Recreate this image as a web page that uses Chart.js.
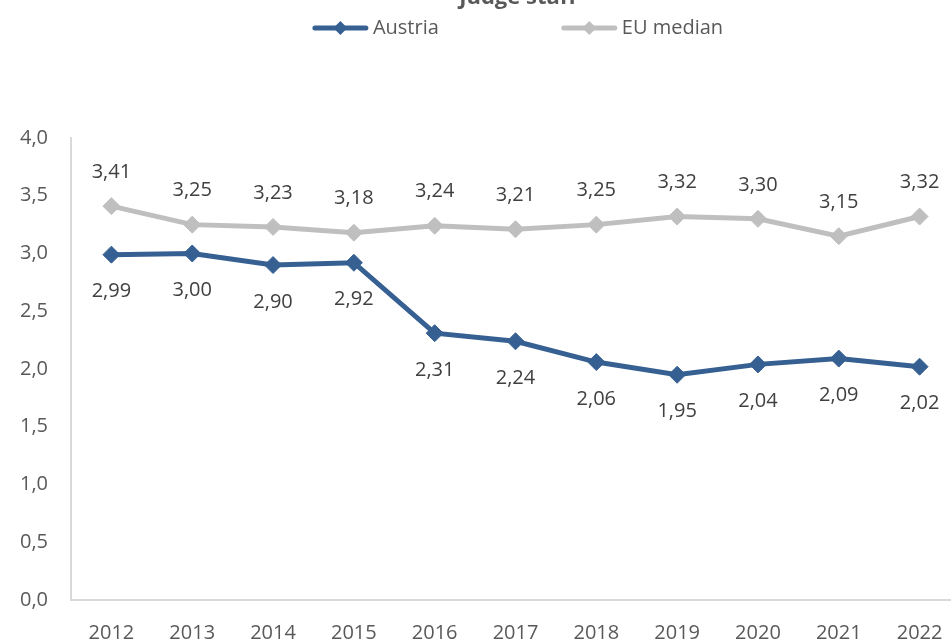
<!DOCTYPE html>
<html>
<head>
<meta charset="utf-8">
<title>Judge staff</title>
<script src="https://cdn.jsdelivr.net/npm/chart.js@4"></script>
<style>
  html, body { margin: 0; padding: 0; overflow: hidden; background: #fff; }
  #wrap { position: relative; width: 951px; height: 643px; overflow: hidden; }
  #myChart { position: absolute; left: 0; top: -17px; }
</style>
</head>
<body>
<div id="wrap"><canvas id="myChart" width="1036" height="665"></canvas></div>
<script>
    // Data
    const years = ['2012', '2013', '2014', '2015', '2016', '2017', '2018', '2019', '2020', '2021', '2022'];
    const austria = [2.99, 3.00, 2.90, 2.92, 2.31, 2.24, 2.06, 1.95, 2.04, 2.09, 2.02];
    const euMedian = [3.41, 3.25, 3.23, 3.18, 3.24, 3.21, 3.25, 3.32, 3.30, 3.15, 3.32];

    const FONT = '"Open Sans", "Liberation Sans", sans-serif';
    const blue = '#376092';
    const grey = '#BFBFBF';

    function comma(v, d) {
        return v.toFixed(d).replace('.', ',');
    }

    // value labels above / below the points
    const valueLabels = {
        id: 'valueLabels',
        afterDatasetsDraw(chart) {
            const ctx = chart.ctx;
            ctx.save();
            ctx.font = '20px ' + FONT;
            ctx.fillStyle = '#404040';
            ctx.textAlign = 'center';
            ctx.textBaseline = 'middle';
            chart.data.datasets.forEach((ds, i) => {
                const meta = chart.getDatasetMeta(i);
                meta.data.forEach((pt, j) => {
                    const off = ds.labelBelow ? 37 : -34;
                    ctx.fillText(comma(ds.data[j], 2), pt.x, pt.y + off);
                });
            });
            ctx.restore();
        }
    };

    // legend drawn as line + diamond, like the original
    const lineLegend = {
        id: 'lineLegend',
        afterDraw(chart) {
            const ctx = chart.ctx;
            ctx.save();
            ctx.font = '20px ' + FONT;
            const lineW = 55, gapText = 5, gapItem = 123, y = 45;
            const items = chart.data.datasets.map(ds => ({
                text: ds.label, color: ds.borderColor, w: lineW + gapText + ctx.measureText(ds.label).width
            }));
            let total = items.reduce((s, it) => s + it.w, 0) + gapItem * (items.length - 1);
            let x = chart.width / 2 - total / 2;
            items.forEach(it => {
                ctx.strokeStyle = it.color;
                ctx.lineWidth = 5;
                ctx.lineCap = 'round';
                ctx.beginPath();
                ctx.moveTo(x + 2, y);
                ctx.lineTo(x + lineW - 2, y);
                ctx.stroke();
                const cx = x + lineW / 2, r = 7;
                ctx.fillStyle = it.color;
                ctx.beginPath();
                ctx.moveTo(cx, y - r);
                ctx.lineTo(cx + r, y);
                ctx.lineTo(cx, y + r);
                ctx.lineTo(cx - r, y);
                ctx.closePath();
                ctx.fill();
                ctx.fillStyle = '#595959';
                ctx.textAlign = 'left';
                ctx.textBaseline = 'middle';
                ctx.fillText(it.text, x + lineW + gapText, y);
                x += it.w + gapItem;
            });
            ctx.restore();
        }
    };

    var ctx = document.getElementById('myChart').getContext('2d');
    var chart = new Chart(ctx, {
        type: 'line',
        data: {
            labels: years,
            datasets: [
                {
                    label: 'Austria',
                    data: austria,
                    borderColor: blue,
                    backgroundColor: blue,
                    borderWidth: 5,
                    pointStyle: 'rectRot',
                    pointRadius: 8.5,
                    pointBorderWidth: 1,
                    pointBackgroundColor: blue,
                    pointBorderColor: blue,
                    tension: 0,
                    labelBelow: true
                },
                {
                    label: 'EU median',
                    data: euMedian,
                    borderColor: grey,
                    backgroundColor: grey,
                    borderWidth: 5,
                    pointStyle: 'rectRot',
                    pointRadius: 8.5,
                    pointBorderWidth: 1,
                    pointBackgroundColor: grey,
                    pointBorderColor: grey,
                    tension: 0,
                    labelBelow: false
                }
            ]
        },
        options: {
            responsive: false,
            animation: false,
            layout: { padding: 0 },
            plugins: {
                legend: { display: false },
                tooltip: { enabled: false },
                title: {
                    display: true,
                    text: 'Judge staff',
                    color: '#595959',
                    font: { family: FONT, size: 22, weight: 'bold', lineHeight: 1.2 },
                    padding: { top: 2, bottom: 0 }
                }
            },
            scales: {
                x: {
                    offset: true,
                    grid: { display: false, drawTicks: false },
                    border: { display: true, color: '#D9D9D9', width: 2 },
                    ticks: { color: '#595959', font: { family: FONT, size: 20 }, padding: 21, maxRotation: 0, autoSkip: false },
                    afterFit: s => { s.height = 48; }
                },
                xTop: {
                    type: 'category',
                    position: 'top',
                    grid: { display: false, drawTicks: false },
                    border: { display: false },
                    ticks: { display: false },
                    afterFit: s => { s.height = 126.6; }
                },
                y: {
                    min: 0,
                    max: 4,
                    grid: { display: false, drawTicks: false },
                    border: { display: true, color: '#D9D9D9', width: 2 },
                    ticks: {
                        stepSize: 0.5,
                        color: '#595959',
                        font: { family: FONT, size: 20 },
                        padding: 23,
                        callback: v => comma(v, 1)
                    },
                    afterFit: s => { s.width = 71; }
                },
                yRight: {
                    position: 'right',
                    grid: { display: false, drawTicks: false },
                    border: { display: false },
                    ticks: { display: false },
                    afterFit: s => { s.width = 76; }
                }
            }
        },
        plugins: [valueLabels, lineLegend]
    });
</script>
</body>
</html>
